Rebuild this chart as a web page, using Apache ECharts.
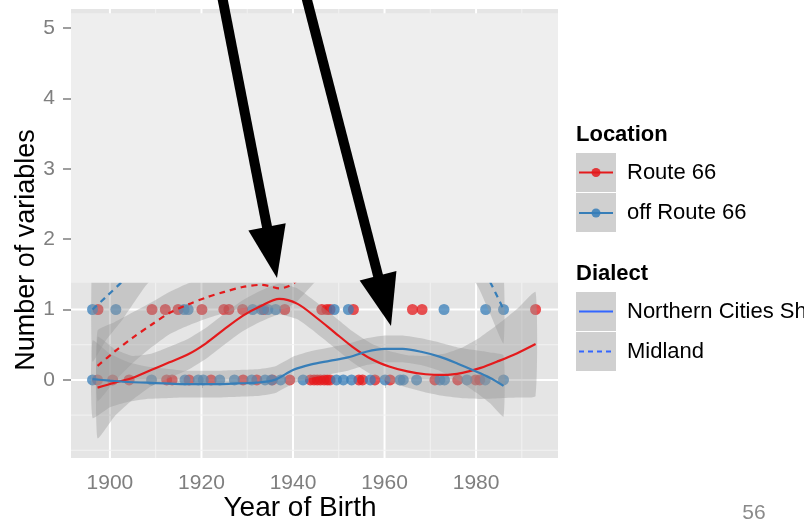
<!DOCTYPE html>
<html>
<head>
<meta charset="utf-8">
<script src="https://cdn.jsdelivr.net/npm/echarts@6/dist/echarts.min.js"></script>
<style>
  html, body { margin: 0; padding: 0; background: #ffffff; }
  #chart { width: 804px; height: 522px; }
</style>
</head>
<body>
<div id="chart"></div>
<script>
// ---------- axis extents and ticks ----------
const X_MIN = 1891.5, X_MAX = 1997.9;
const Y_MIN = -1.11, Y_MAX = 5.27;
const xTickYears = [1900, 1920, 1940, 1960, 1980];
const xMinorYears = [1910, 1930, 1950, 1970, 1990];
const yTickValues = [0, 1, 2, 3, 4, 5];
const yMinorValues = [-1, -0.5, 0.5, 1.5, 2.5, 3.5, 4.5];

// ---------- speakers: birth years, split by response (0 / 1) ----------
const route66Ones = [1897.4, 1909.2, 1912.1, 1914.9, 1920.1, 1924.9, 1926.0, 1929.0, 1933.6, 1938.2,
  1946.3, 1947.4, 1948.1, 1953.2, 1966.1, 1968.2, 1993.0];
const route66Zeros = [1897.3, 1900.6, 1904.2, 1912.4, 1913.6, 1917.3, 1922.1, 1929.1, 1932.1, 1935.5,
  1939.3, 1943.8, 1944.6, 1945.3, 1946.0, 1946.8, 1947.5, 1948.1, 1954.4, 1955.2, 1957.9, 1961.2,
  1971.0, 1976.0, 1979.9, 1980.8];
const offRoute66Ones = [1896.2, 1901.3, 1916.2, 1917.1, 1931.2, 1933.1, 1934.5, 1936.2, 1949.0,
  1952.1, 1973.0, 1982.1, 1986.0];
const offRoute66Zeros = [1896.2, 1909.1, 1916.4, 1919.3, 1920.4, 1924.0, 1927.2, 1931.0, 1933.9,
  1935.3, 1937.3, 1942.2, 1949.5, 1951.0, 1952.8, 1956.9, 1960.1, 1963.4, 1964.1, 1967.0, 1972.1,
  1973.1, 1978.0, 1982.0, 1986.0];

// ---------- smoothed fits with confidence bands ----------
// Route 66, Northern Cities Shift
const r66NcsYears = [1897.3, 1901, 1905, 1909, 1913, 1917, 1921, 1925, 1929, 1933, 1937, 1941, 1945,
  1949, 1953, 1957, 1961, 1965, 1969, 1973, 1977, 1981, 1985, 1989, 1993];
const r66NcsFit = [-0.11, -0.04, 0.03, 0.14, 0.25, 0.36, 0.52, 0.72, 0.91, 1.05, 1.15, 1.08, 0.89,
  0.68, 0.47, 0.30, 0.19, 0.12, 0.08, 0.07, 0.10, 0.17, 0.27, 0.38, 0.51];
const r66NcsLower = [-0.83, -0.52, -0.28, -0.09, 0.03, 0.14, 0.30, 0.50, 0.69, 0.83, 0.93, 0.86, 0.67,
  0.46, 0.25, 0.08, -0.03, -0.11, -0.18, -0.23, -0.26, -0.27, -0.26, -0.25, -0.23];
const r66NcsUpper = [0.61, 0.44, 0.34, 0.37, 0.47, 0.58, 0.74, 0.94, 1.13, 1.27, 1.37, 1.30, 1.11,
  0.90, 0.69, 0.52, 0.41, 0.35, 0.34, 0.37, 0.46, 0.61, 0.80, 1.01, 1.25];

// Route 66, Midland
const r66MidYears = [1897.3, 1901, 1905, 1909, 1913, 1917, 1921, 1925, 1929, 1933, 1935, 1937, 1939,
  1941, 1945, 1950, 1955];
const r66MidFit = [0.20, 0.40, 0.60, 0.78, 0.95, 1.07, 1.17, 1.25, 1.32, 1.35, 1.33, 1.30, 1.33,
  1.42, 1.70, 2.00, 2.30];
const r66MidLower = [-0.30, -0.02, 0.24, 0.46, 0.65, 0.77, 0.87, 0.95, 1.02, 1.05, 1.03, 1.00, 1.03,
  1.12, 1.40, 1.65, 1.90];
const r66MidUpper = [0.70, 0.82, 0.96, 1.10, 1.25, 1.37, 1.47, 1.55, 1.62, 1.65, 1.63, 1.60, 1.63,
  1.72, 2.00, 2.35, 2.70];

// off Route 66, Northern Cities Shift
const offNcsYears = [1896.2, 1900, 1904, 1908, 1912, 1916, 1920, 1924, 1928, 1932, 1936, 1940, 1944,
  1948, 1952, 1956, 1960, 1964, 1968, 1972, 1976, 1980, 1983, 1986];
const offNcsFit = [0.01, -0.01, -0.03, -0.04, -0.05, -0.06, -0.06, -0.06, -0.05, -0.04, 0.00, 0.14,
  0.22, 0.27, 0.32, 0.40, 0.44, 0.44, 0.40, 0.33, 0.23, 0.12, 0.03, -0.085];
const offNcsLower = [-0.54, -0.39, -0.31, -0.27, -0.26, -0.25, -0.25, -0.25, -0.24, -0.23, -0.19,
  -0.05, 0.03, 0.08, 0.13, 0.21, 0.25, 0.25, 0.21, 0.13, 0.00, -0.18, -0.33, -0.52];
const offNcsUpper = [0.56, 0.37, 0.25, 0.19, 0.16, 0.13, 0.13, 0.13, 0.14, 0.15, 0.19, 0.33, 0.41,
  0.46, 0.51, 0.59, 0.63, 0.63, 0.59, 0.53, 0.46, 0.42, 0.39, 0.35];

// off Route 66, Midland
const offMidYears = [1896.2, 1899, 1903, 1908, 1915, 1925, 1935, 1945, 1955, 1965, 1975, 1980, 1983, 1986];
const offMidFit = [1.00, 1.17, 1.42, 1.80, 2.30, 2.80, 3.00, 3.00, 2.90, 2.60, 2.10, 1.75, 1.40, 1.00];
const offMidLower = [0.26, 0.55, 0.88, 1.35, 1.80, 2.20, 2.40, 2.40, 2.30, 2.00, 1.60, 1.37, 0.95, 0.52];
const offMidUpper = [1.74, 1.79, 1.96, 2.25, 2.80, 3.40, 3.60, 3.60, 3.50, 3.20, 2.60, 2.13, 1.85, 1.48];

// ---------- styling ----------
const RED = '#E41A1C', BLUE = '#377EB8', SMOOTH_BLUE = '#3366FF';
const FONT = '"Liberation Sans", Arial, Helvetica, sans-serif';
const PANEL = '#e5e5e5';
const OVERLAY_TOP = 5.21, OVERLAY_BOTTOM = 1.38;
const SMOOTH = 0.3;

const chart = echarts.init(document.getElementById('chart'), null, { renderer: 'canvas' });

function pointSeries(years, level, color) {
  return {
    type: 'scatter', z: 2, silent: true,
    symbol: 'circle', symbolSize: 11,
    itemStyle: { color: color, opacity: 0.75 },
    data: years.map(y => [y, level])
  };
}

// confidence band: polygon through the upper edge, then back along the lower edge
function bandSeries(years, lower, upper) {
  return {
    type: 'custom', z: 3, silent: true, clip: true,
    data: years.map((y, i) => [y, lower[i], upper[i]]),
    renderItem: (params, api) => {
      if (params.dataIndex !== 0) return null;
      const top = years.map((y, i) => api.coord([y, upper[i]]));
      const bottom = years.map((y, i) => api.coord([y, lower[i]])).reverse();
      return {
        type: 'polygon',
        shape: { points: top.concat(bottom), smooth: 0.15 },
        style: { fill: '#999999', opacity: 0.4 }
      };
    },
    encode: { x: 0, y: [1, 2] }
  };
}

function fitSeries(years, fit, color, dashed) {
  return {
    type: 'line', z: 3, silent: true, symbol: 'none', smooth: SMOOTH,
    lineStyle: { color: color, width: 2.2, type: dashed ? [6, 5] : 'solid' },
    data: years.map((y, i) => [y, fit[i]])
  };
}

const xGrid = xMinorYears.map(v => [v, 0]).concat(xTickYears.map(v => [v, 1]));
const yGrid = yMinorValues.map(v => [v, 0]).concat(yTickValues.map(v => [v, 1]));

const gridLineStyle = major => ({
  stroke: major ? '#ffffff' : '#f2f2f2',
  lineWidth: major ? 2 : 1
});

const series = [
  {
    type: 'custom', z: 1, silent: true, clip: true,
    data: xGrid,
    renderItem: (params, api) => {
      const v = api.value(0), major = api.value(1) === 1;
      const a = api.coord([v, Y_MIN]), b = api.coord([v, Y_MAX]);
      return { type: 'line', shape: { x1: a[0], y1: a[1], x2: b[0], y2: b[1] }, style: gridLineStyle(major) };
    }
  },
  {
    type: 'custom', z: 1, silent: true, clip: true,
    data: yGrid.map(d => [X_MIN, d[0], d[1]]),
    renderItem: (params, api) => {
      const v = api.value(1), major = api.value(2) === 1;
      const a = api.coord([X_MIN, v]), b = api.coord([X_MAX, v]);
      return { type: 'line', shape: { x1: a[0], y1: a[1], x2: b[0], y2: b[1] }, style: gridLineStyle(major) };
    }
  },
  pointSeries(route66Ones, 1, RED),
  pointSeries(route66Zeros, 0, RED),
  pointSeries(offRoute66Ones, 1, BLUE),
  pointSeries(offRoute66Zeros, 0, BLUE),
  bandSeries(r66NcsYears, r66NcsLower, r66NcsUpper),
  fitSeries(r66NcsYears, r66NcsFit, RED, false),
  bandSeries(r66MidYears, r66MidLower, r66MidUpper),
  fitSeries(r66MidYears, r66MidFit, RED, true),
  bandSeries(offNcsYears, offNcsLower, offNcsUpper),
  fitSeries(offNcsYears, offNcsFit, BLUE, false),
  bandSeries(offMidYears, offMidLower, offMidUpper),
  fitSeries(offMidYears, offMidFit, BLUE, true),
  {
    // pale cover over the upper part of the panel
    type: 'custom', z: 5, silent: true,
    data: [[X_MIN, OVERLAY_TOP]],
    renderItem: (params, api) => {
      const a = api.coord([X_MIN, OVERLAY_TOP]), b = api.coord([X_MAX, OVERLAY_BOTTOM]);
      return { type: 'rect', shape: { x: a[0], y: a[1], width: b[0] - a[0], height: b[1] - a[1] },
        style: { fill: '#eeeeee' } };
    }
  }
];

// ---------- annotation arrows ----------
function arrow(tail, tip, headLen, headHalf, width) {
  const dx = tip[0] - tail[0], dy = tip[1] - tail[1];
  const len = Math.sqrt(dx * dx + dy * dy);
  const ux = dx / len, uy = dy / len;
  const bx = tip[0] - ux * headLen, by = tip[1] - uy * headLen;
  const px = -uy * headHalf, py = ux * headHalf;
  return [
    { type: 'line', z: 100, silent: true,
      shape: { x1: tail[0], y1: tail[1], x2: bx + ux * 2, y2: by + uy * 2 },
      style: { stroke: '#000000', lineWidth: width } },
    { type: 'polygon', z: 100, silent: true,
      shape: { points: [[tip[0], tip[1]], [bx + px, by + py], [bx - px, by - py]] },
      style: { fill: '#000000' } }
  ];
}

// ---------- legend and titles ----------
function text(x, y, str, size, opts) {
  return Object.assign({
    type: 'text', z: 100, x: x, y: y, silent: true,
    style: Object.assign({ text: str, fontSize: size, fontFamily: FONT, fill: '#000000',
      align: 'left', verticalAlign: 'middle' }, (opts && opts.style) || {})
  }, opts && opts.el ? opts.el : {});
}
function keyBox(y) {
  return { type: 'rect', z: 100, silent: true, shape: { x: 576, y: y, width: 40, height: 39 },
    style: { fill: '#d0d0d0' } };
}
function keyLine(y, color, dash) {
  return { type: 'line', z: 101, silent: true, shape: { x1: 579, y1: y, x2: 613, y2: y },
    style: { stroke: color, lineWidth: 2, lineDash: dash || null } };
}
function keyDot(y, color) {
  return { type: 'circle', z: 102, silent: true, shape: { cx: 596, cy: y, r: 4.5 },
    style: { fill: color, opacity: 0.85 } };
}

const graphics = [
  ...arrow([222, -4], [277, 278], 52, 19, 10),
  ...arrow([306, -4], [391, 326], 52, 19, 10),
  text(300, 508, 'Year of Birth', 28, { style: { align: 'center' } }),
  text(27, 250, 'Number of variables', 27, { style: { align: 'center' }, el: { rotation: Math.PI / 2 } }),
  text(576, 135, 'Location', 22, { style: { fontWeight: 'bold' } }),
  keyBox(153), keyBox(193),
  keyLine(172.5, RED), keyDot(172.5, RED),
  keyLine(213, BLUE), keyDot(213, BLUE),
  text(627, 173, 'Route 66', 22),
  text(627, 213, 'off Route 66', 22),
  text(576, 274, 'Dialect', 22, { style: { fontWeight: 'bold' } }),
  keyBox(292), keyBox(332),
  keyLine(311.5, SMOOTH_BLUE), keyLine(351.5, SMOOTH_BLUE, [5, 4]),
  text(627, 312, 'Northern Cities Shift', 22),
  text(627, 352, 'Midland', 22),
  text(754, 513, '56', 21, { style: { align: 'center', fill: '#8a8a8a' } })
];

const plainNumber = v => String(v);

chart.setOption({
  animation: false,
  backgroundColor: '#ffffff',
  grid: { left: 71, top: 9, width: 487, height: 449, show: true, backgroundColor: PANEL, borderWidth: 0 },
  xAxis: {
    type: 'value', min: X_MIN, max: X_MAX,
    axisLine: { show: false },
    splitLine: { show: false },
    axisTick: { show: true, customValues: xTickYears, length: 8, lineStyle: { color: '#7f7f7f', width: 1.5 } },
    axisLabel: { customValues: xTickYears, formatter: plainNumber, color: '#7f7f7f', fontSize: 21,
      fontFamily: FONT, margin: 15 }
  },
  yAxis: {
    type: 'value', min: Y_MIN, max: Y_MAX,
    axisLine: { show: false },
    splitLine: { show: false },
    axisTick: { show: true, customValues: yTickValues, length: 8, lineStyle: { color: '#7f7f7f', width: 1.5 } },
    axisLabel: { customValues: yTickValues, formatter: plainNumber, color: '#7f7f7f', fontSize: 21,
      fontFamily: FONT, margin: 16 }
  },
  series: series,
  graphic: { elements: graphics }
});
</script>
</body>
</html>
